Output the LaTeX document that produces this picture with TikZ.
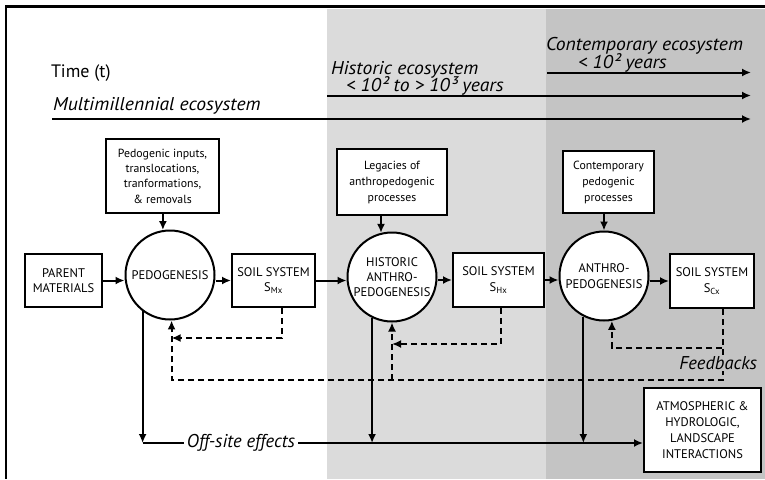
\documentclass[tikz,border=0pt]{standalone}
\usepackage{fontspec}
\setmainfont{PT Sans}
\newfontfamily\erafont[FakeStretch=1.06]{PT Sans}
\usetikzlibrary{arrows.meta}
\definecolor{histgray}{gray}{0.86}
\definecolor{contgray}{gray}{0.77}
\begin{document}
\begin{tikzpicture}[x=1pt,y=-1pt,line width=2pt,>={Latex[length=9pt,width=8pt]},
  box/.style={draw,fill=white,align=center,inner sep=1pt,font=\fontsize{11.8}{16}\selectfont},
  caps/.style={box,font=\fontsize{12.5}{15.3}\selectfont},
  proc/.style={draw,fill=white,circle,align=center,inner sep=0pt,minimum size=89pt,font=\fontsize{12.5}{15.3}\selectfont},
  era/.style={anchor=base west,inner sep=0pt,text height=11pt,text depth=1pt,font=\erafont\fontsize{18.5}{18.5}\selectfont\itshape},
  note/.style={inner sep=2pt,font=\fontsize{18.5}{18.5}\selectfont\itshape},
  fb/.style={dash pattern=on 6pt off 4pt}]
  \useasboundingbox (0,0) rectangle (765,479);
  \fill[histgray] (327,9) rectangle (546,479);
  \fill[contgray] (546,9) rectangle (765,479);
  \draw[line width=3pt] (5,6.5) -- (765,6.5);
  \draw[line width=2pt] (6,6) -- (6,479);

  \node[anchor=base west,inner sep=0pt,font=\fontsize{18}{18}\selectfont] (time) at (50,77) {Time (t)};
  \node[era] (contname) at (545,50) {Contemporary ecosystem};
  \node[era] (contspan) at (577,68) {< 10² years};
  \node[era] (histname) at (330,74) {Historic ecosystem};
  \node[era] (histspan) at (345,91.5) {< 10² to > 10³ years};
  \node[era] (multi) at (52,110) {Multimillennial ecosystem};
  \coordinate (tcont) at (547,72.5);
  \coordinate (thist) at (327,95.5);
  \coordinate (tmulti) at (52,119);
  \coordinate (tend) at (751,0);
  \foreach \t in {tcont,thist,tmulti} \draw[->] (\t) -- (\t -| tend);

  \node[box,minimum width=113pt,minimum height=74pt,font=\fontsize{11.8}{15.3}\selectfont] (inputs) at (162.5,176) {Pedogenic inputs,\\translocations,\\tranformations,\\\& removals};
  \node[box,minimum width=110pt,minimum height=66pt] (legacy) at (392,182) {Legacies of\\anthropedogenic\\processes};
  \node[box,minimum width=91pt,minimum height=62pt] (current) at (608.5,182) {Contemporary\\pedogenic\\processes};

  \node[caps,minimum width=77pt,minimum height=53pt] (parent) at (63.5,280.5) {PARENT\\MATERIALS};
  \node[proc] (pedo) at (170,275) {PEDOGENESIS};
  \node[caps,minimum width=83pt,minimum height=53pt] (soilM) at (273.5,280.5) {SOIL SYSTEM\\S\textsubscript{Mx}};
  \node[proc] (hist) at (392,277) {HISTORIC\\ANTHRO-\\PEDOGENESIS};
  \node[caps,minimum width=91pt,minimum height=54pt] (soilH) at (498.5,280) {SOIL SYSTEM\\S\textsubscript{Hx}};
  \node[proc] (anthro) at (604,276) {ANTHRO-\\PEDOGENESIS};
  \node[caps,minimum width=84pt,minimum height=54pt] (soilC) at (712,281) {SOIL SYSTEM\\S\textsubscript{Cx}};
  \node[caps,minimum width=117pt,minimum height=84pt,font=\fontsize{12.5}{16}\selectfont] (atmos) at (702.5,430) {ATMOSPHERIC \&\\HYDROLOGIC,\\LANDSCAPE\\INTERACTIONS};

  \foreach \a/\b in {parent/pedo,soilM/hist,soilH/anthro} \draw[->] (\a.east) -- (\a.east -| \b.west);
  \foreach \a/\b in {pedo/soilM,hist/soilH,anthro/soilC} \draw[->] (\b.west -| \a.east) -- (\b.west);
  \draw[->] (pedo.99 |- inputs.south) -- (pedo.99);
  \draw[->] (hist.104 |- legacy.south) -- (hist.104);
  \draw[->] (anthro.north |- current.south) -- (anthro.north);

  \node[note] (offsite) at (241,443) {Off-site effects};
  \draw[->] (pedo.233) -- (pedo.233 |- offsite);
  \draw (pedo.233 |- offsite) -- (offsite.west);
  \draw[->] (offsite.east) -- (atmos.west |- offsite);
  \draw[->] (hist.244) -- (hist.244 |- offsite);
  \draw[->] (anthro.243) -- (anthro.243 |- offsite);

  \coordinate (fbm) at (0,338);
  \coordinate (fbh) at (0,344);
  \coordinate (fbc) at (0,348);
  \coordinate (fball) at (0,380);
  \draw[fb,->] ([xshift=8pt]soilM.south) |- (pedo.272 |- fbm);
  \draw[fb,->] ([xshift=2.5pt]soilH.south) |- (hist.south |- fbh);
  \draw[fb,->] ([xshift=11pt]soilC.south) |- (anthro.280 |- fbc) -- (anthro.280);
  \draw[fb,->] ([xshift=11pt]soilC.south) -- ([xshift=11pt]soilC.south |- fball) -| (pedo.272);
  \draw[fb,->] (hist.south |- fball) -- (hist.south);
  \node[note,anchor=east,fill=contgray,inner sep=1pt] (feedbacks) at (759,363) {Feedbacks};
\end{tikzpicture}
\end{document}
